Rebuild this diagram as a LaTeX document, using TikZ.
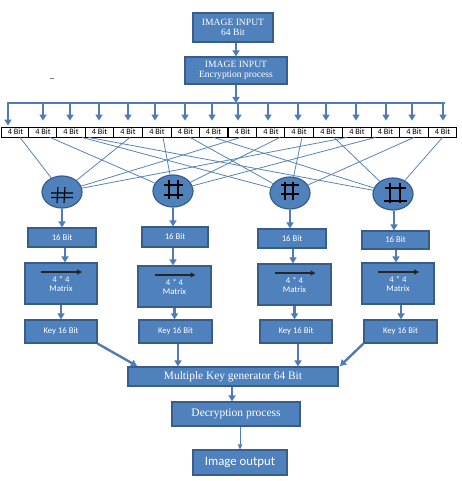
\documentclass[tikz,border=0pt]{standalone}
\usepackage{fontspec}
\setmainfont{Liberation Serif}
\newfontfamily\calfont{Carlito}
\usetikzlibrary{arrows.meta,calc,shapes.geometric}
\definecolor{boxblue}{HTML}{4F81BD}
\definecolor{boxedge}{HTML}{385D8A}
\definecolor{arrowblue}{HTML}{4F7CB6}
\definecolor{thinblue}{HTML}{5A84B8}
\tikzset{
  bluebox/.style={draw=boxedge, line width=1.2pt, fill=boxblue, text=white, inner sep=0pt, align=center},
  serifbox/.style={bluebox, font=\fontsize{9.6}{10.2}\selectfont},
  calbox/.style={bluebox, font=\calfont\fontsize{8.7}{9.5}\selectfont},
  cellbox/.style={draw=black, line width=0.8pt, fill=white, minimum width=28.4pt, minimum height=10pt, inner sep=0pt, font=\calfont\fontsize{8.3}{9}\selectfont},
  hashnode/.style={ellipse, draw=boxedge, line width=1.2pt, fill=boxblue, minimum width=40pt, minimum height=32pt, inner sep=0pt},
  flow/.style={draw=arrowblue, line width=2.4pt, -{Triangle[length=6pt,width=7pt]}},
  thinflow/.style={draw=arrowblue, line width=0.9pt, -{Triangle[length=5pt,width=4.5pt]}},
  wire/.style={draw=thinblue, line width=0.8pt},
  hashline/.style={draw=black, line width=1.1pt},
  innerarrow/.style={draw=black!85, line width=1.6pt, -{Triangle[length=5pt,width=5pt]}},
}
\begin{document}
\begin{tikzpicture}[x=1pt,y=-1pt]
\useasboundingbox (0,0) rectangle (462,481);
\fill[white] (0,0) rectangle (462,481);

% top boxes
\node[serifbox, minimum width=80pt, minimum height=29pt] (in64) at (233,27.5) {IMAGE INPUT\\64 Bit};
\node[serifbox, minimum width=102pt, minimum height=27pt] (enc) at (236,70.5) {IMAGE INPUT\\Encryption process};
\draw[flow] (in64.south -| enc.north) -- (enc.north);

% distribution bar
\coordinate (barL) at (7,103);
\coordinate (barR) at (445,103);
\coordinate (barM) at (236,103);
\draw[draw=arrowblue, line width=2.6pt] (barL) -- (barR);
\draw[flow] (enc.south) -- (barM);

% stray dash
\draw[gray, line width=0.7pt] (50,78) -- (54,78);

% cells
\foreach \i/\cx in {1/15.5,2/43,3/71,4/99.5,5/128,6/157,7/185.5,8/213.5,9/242.5,10/271,11/299,12/328,13/357,14/385.5,15/414,16/442.5}{
  \node[cellbox] (c\i) at (\cx,132) {4 Bit};
}
% arrows from bar to cells
\foreach \i/\ax in {2/43,3/70,4/99,5/128,6/155,7/185,8/212,9/238,10/268,11/298,12/326,13/356,14/386,15/412,16/443}{
  \coordinate (b\i) at (\ax,103);
  \draw[flow, line width=2pt, shorten >=6pt] (b\i) -- (b\i |- c\i.north);
}
\coordinate (b1) at (8,103);
\draw[flow, line width=2pt, shorten >=1pt] (b1) -- (b1 |- c1.north);

% hash circles
\node[hashnode] (h1) at (62,192) {};
\node[hashnode] (h2) at (173,191) {};
\node[hashnode] (h3) at (290,193) {};
\node[hashnode] (h4) at (393,194) {};

% hash symbols
\draw[hashline] (51,193) -- (73,193) (51,197.5) -- (73,197.5) (58,187) -- (57,203) (65,187) -- (64,203);
\draw[hashline] (164,185) -- (183,185) (164,195) -- (183,195) (169,180) -- (169,199) (178,180) -- (178,199);
\draw[hashline] (281,185) -- (299,185) (281,194) -- (299,194) (285,182) -- (285,200) (293,182) -- (293,200);
\draw[hashline] (385,188) -- (406,188) (384,201) -- (407,201) (390,183) -- (390,203) (400,183) -- (400,203);

% wires from cells to circles
\draw[wire] ([xshift=4.5pt]c1.south) -- (h1);
\draw[wire] ([xshift=2pt]c5.south) -- (h1);
\draw[wire] ([xshift=-2pt]c9.south) -- (h1);
\draw[wire] ([xshift=-10pt]c13.south) -- (h1);
\draw[wire] ([xshift=7pt]c2.south) -- (h2);
\draw[wire] ([xshift=6pt]c6.south) -- (h2);
\draw[wire] ([xshift=9pt]c10.south) -- (h2);
\draw[wire] ([xshift=-10pt]c14.south) -- (h2);
\draw[wire] ([xshift=11pt]c3.south) -- (h3);
\draw[wire] ([xshift=4.5pt]c7.south) -- (h3);
\draw[wire] ([xshift=3pt]c11.south) -- (h3);
\draw[wire] (c15.south) -- (h3);
\draw[wire] ([xshift=-11pt]c4.south) -- (h4);
\draw[wire] (c8.south) -- (h4);
\draw[wire] ([xshift=6pt]c12.south) -- (h4);
\draw[wire] (c16.south) -- (h4);

% 16 Bit boxes
\node[calbox, minimum width=68pt, minimum height=19pt] (s1) at (62,237.5) {16 Bit};
\node[calbox, minimum width=66pt, minimum height=20pt] (s2) at (175,237) {16 Bit};
\node[calbox, minimum width=68pt, minimum height=19pt] (s3) at (292,238.5) {16 Bit};
\node[calbox, minimum width=67pt, minimum height=18pt] (s4) at (395.5,240) {16 Bit};

% Matrix boxes
\node[calbox, minimum width=72pt, minimum height=41pt] (m1) at (61,283.5) {\raisebox{-8pt}{\shortstack{4 * 4\\Matrix}}};
\node[calbox, minimum width=73pt, minimum height=41pt] (m2) at (174.5,286.5) {\raisebox{-8pt}{\shortstack{4 * 4\\Matrix}}};
\node[calbox, minimum width=73pt, minimum height=41pt] (m3) at (294.5,284.5) {\raisebox{-8pt}{\shortstack{4 * 4\\Matrix}}};
\node[calbox, minimum width=72pt, minimum height=41pt] (m4) at (398,283.5) {\raisebox{-8pt}{\shortstack{4 * 4\\Matrix}}};
\foreach \m in {m1,m2,m3,m4}{
  \draw[innerarrow] ([shift={(-20pt,11.5pt)}]\m.center) -- ([shift={(21pt,11.5pt)}]\m.center);
}

% Key boxes
\node[calbox, minimum width=72pt, minimum height=23pt] (k1) at (61,331.5) {Key 16 Bit};
\node[calbox, minimum width=73pt, minimum height=23pt] (k2) at (175.5,331.5) {Key 16 Bit};
\node[calbox, minimum width=72pt, minimum height=23pt] (k3) at (296,331.5) {Key 16 Bit};
\node[calbox, minimum width=73pt, minimum height=23pt] (k4) at (400.5,331.5) {Key 16 Bit};

% vertical arrows in columns
\draw[flow] (h1.south) -- (h1.south |- s1.north);
\draw[flow] (h2.south) -- (h2.south |- s2.north);
\draw[flow] (h3.south) -- (h3.south |- s3.north);
\draw[flow] ([xshift=1pt]h4.south) -- ([xshift=1pt]h4.south |- s4.north);
\draw[flow] ([xshift=3pt]s1.south) -- ([xshift=3pt]s1.south |- m1.north);
\draw[flow] ([xshift=-2pt]s2.south) -- ([xshift=-2pt]s2.south |- m2.north);
\draw[flow] ([xshift=1pt]s3.south) -- ([xshift=1pt]s3.south |- m3.north);
\draw[flow] ([xshift=0.5pt]s4.south) -- ([xshift=0.5pt]s4.south |- m4.north);
\draw[flow] (m1.south) -- (m1.south |- k1.north);
\draw[flow] (m2.south) -- (m2.south |- k2.north);
\draw[flow] (m3.south) -- (m3.south |- k3.north);
\draw[flow] ([xshift=3pt]m4.south) -- ([xshift=3pt]m4.south |- k4.north);

% bottom boxes
\node[serifbox, minimum width=210pt, minimum height=19pt, font=\fontsize{11.4}{12}\selectfont] (multi) at (233,376.5) {Multiple Key generator 64 Bit};
\node[serifbox, minimum width=128pt, minimum height=24pt, font=\fontsize{11.5}{12}\selectfont] (dec) at (236,414) {Decryption process};
\node[calbox, minimum width=94pt, minimum height=25pt, font=\calfont\fontsize{12.8}{14}\selectfont] (out) at (240,462.5) {Image output};

\coordinate (mk1) at (137,366);
\coordinate (mk4) at (340,366);
\draw[flow] (k1.south east) -- (mk1);
\draw[flow] ([xshift=2.5pt]k2.south) -- ([xshift=2.5pt]k2.south |- multi.north);
\draw[flow] ([xshift=2pt]k3.south) -- ([xshift=2pt]k3.south |- multi.north);
\draw[flow] (k4.south west) -- (mk4);
\draw[flow] ([xshift=-1pt]multi.south) -- ([xshift=-1pt]multi.south |- dec.north);
\draw[thinflow] ([xshift=4pt]dec.south) -- ([xshift=4pt]dec.south |- out.north);
\end{tikzpicture}
\end{document}
